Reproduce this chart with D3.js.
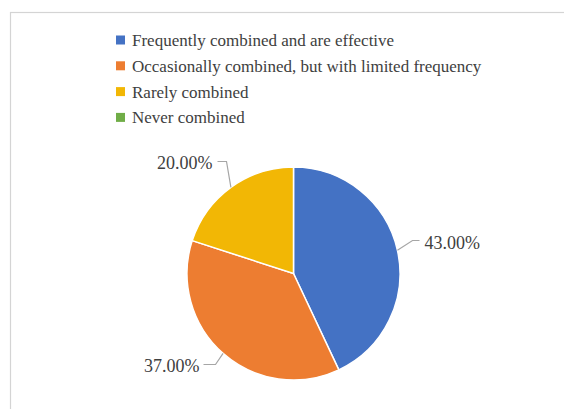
<!DOCTYPE html>
<html>
<head>
<meta charset="utf-8">
<script src="https://cdn.jsdelivr.net/npm/d3@7"></script>
<style>
  html, body { margin: 0; padding: 0; background: #fff; }
  svg { display: block; }
</style>
</head>
<body>
<svg id="chart" width="564" height="409"></svg>
<script>
// Share of respondents per combination category
const categories = [
  "Frequently combined and are effective",
  "Occasionally combined, but with limited frequency",
  "Rarely combined",
  "Never combined"
];
const values = [43, 37, 20, 0];
const colors = ["#4472C4", "#ED7D31", "#F2B705", "#70AD47"];

const svg = d3.select("#chart");
const W = 564, H = 409;
const fontFamily = "Liberation Serif";
const textColor = "#404040";

// chart area frame
svg.append("rect")
  .attr("x", 10.5).attr("y", 12.5)
  .attr("width", W + 20).attr("height", H + 20)
  .attr("fill", "#fff")
  .attr("stroke", "#d4d4d4").attr("stroke-width", 1.2);

// legend
const legend = svg.append("g").attr("transform", "translate(116,40)");
const rowH = 25.8;
categories.forEach((c, i) => {
  const g = legend.append("g").attr("transform", `translate(0,${i * rowH})`);
  g.append("rect").attr("x", 0).attr("y", -4.5).attr("width", 9).attr("height", 9)
    .attr("fill", colors[i]);
  g.append("text").attr("x", 16).attr("y", 0).attr("dy", "0.35em")
    .style("font-family", fontFamily).attr("font-size", 17)
    .attr("fill", textColor).text(c);
});

// pie
const cx = 293.5, cy = 273.5, r = 106.5;
const pie = d3.pie().sort(null).value(d => d.v);
const data = pie(categories.map((c, i) => ({ c, v: values[i], i })));
const arc = d3.arc().innerRadius(0).outerRadius(r);
const g = svg.append("g").attr("transform", `translate(${cx},${cy})`);

g.selectAll("path.slice").data(data.filter(d => d.data.v > 0)).join("path")
  .attr("class", "slice")
  .attr("d", arc)
  .attr("fill", d => colors[d.data.i])
  .attr("stroke", "#fff").attr("stroke-width", 1.5);

// data labels with leader lines
const fmt = v => v.toFixed(2) + "%";
const labelSpec = {
  0: { elbow: [119, -33], end: [126, -33], text: [131, -31], anchor: "start" },
  1: { elbow: [-78, 91], end: [-90, 91], text: [-94, 92], anchor: "end" },
  2: { elbow: [-67, -112], end: [-76, -112], text: [-81, -111], anchor: "end" }
};
data.filter(d => d.data.v > 0).forEach(d => {
  const s = labelSpec[d.data.i];
  const mid = (d.startAngle + d.endAngle) / 2;
  const p0 = [Math.sin(mid) * r, -Math.cos(mid) * r];
  g.append("polyline")
    .attr("points", [p0, s.elbow, s.end].map(p => p.join(",")).join(" "))
    .attr("fill", "none").attr("stroke", "#a6a6a6").attr("stroke-width", 1.2);
  g.append("text")
    .attr("x", s.text[0]).attr("y", s.text[1]).attr("dy", "0.35em")
    .attr("text-anchor", s.anchor)
    .style("font-family", fontFamily).attr("font-size", 18)
    .attr("fill", textColor).text(fmt(d.data.v));
});
</script>
</body>
</html>
